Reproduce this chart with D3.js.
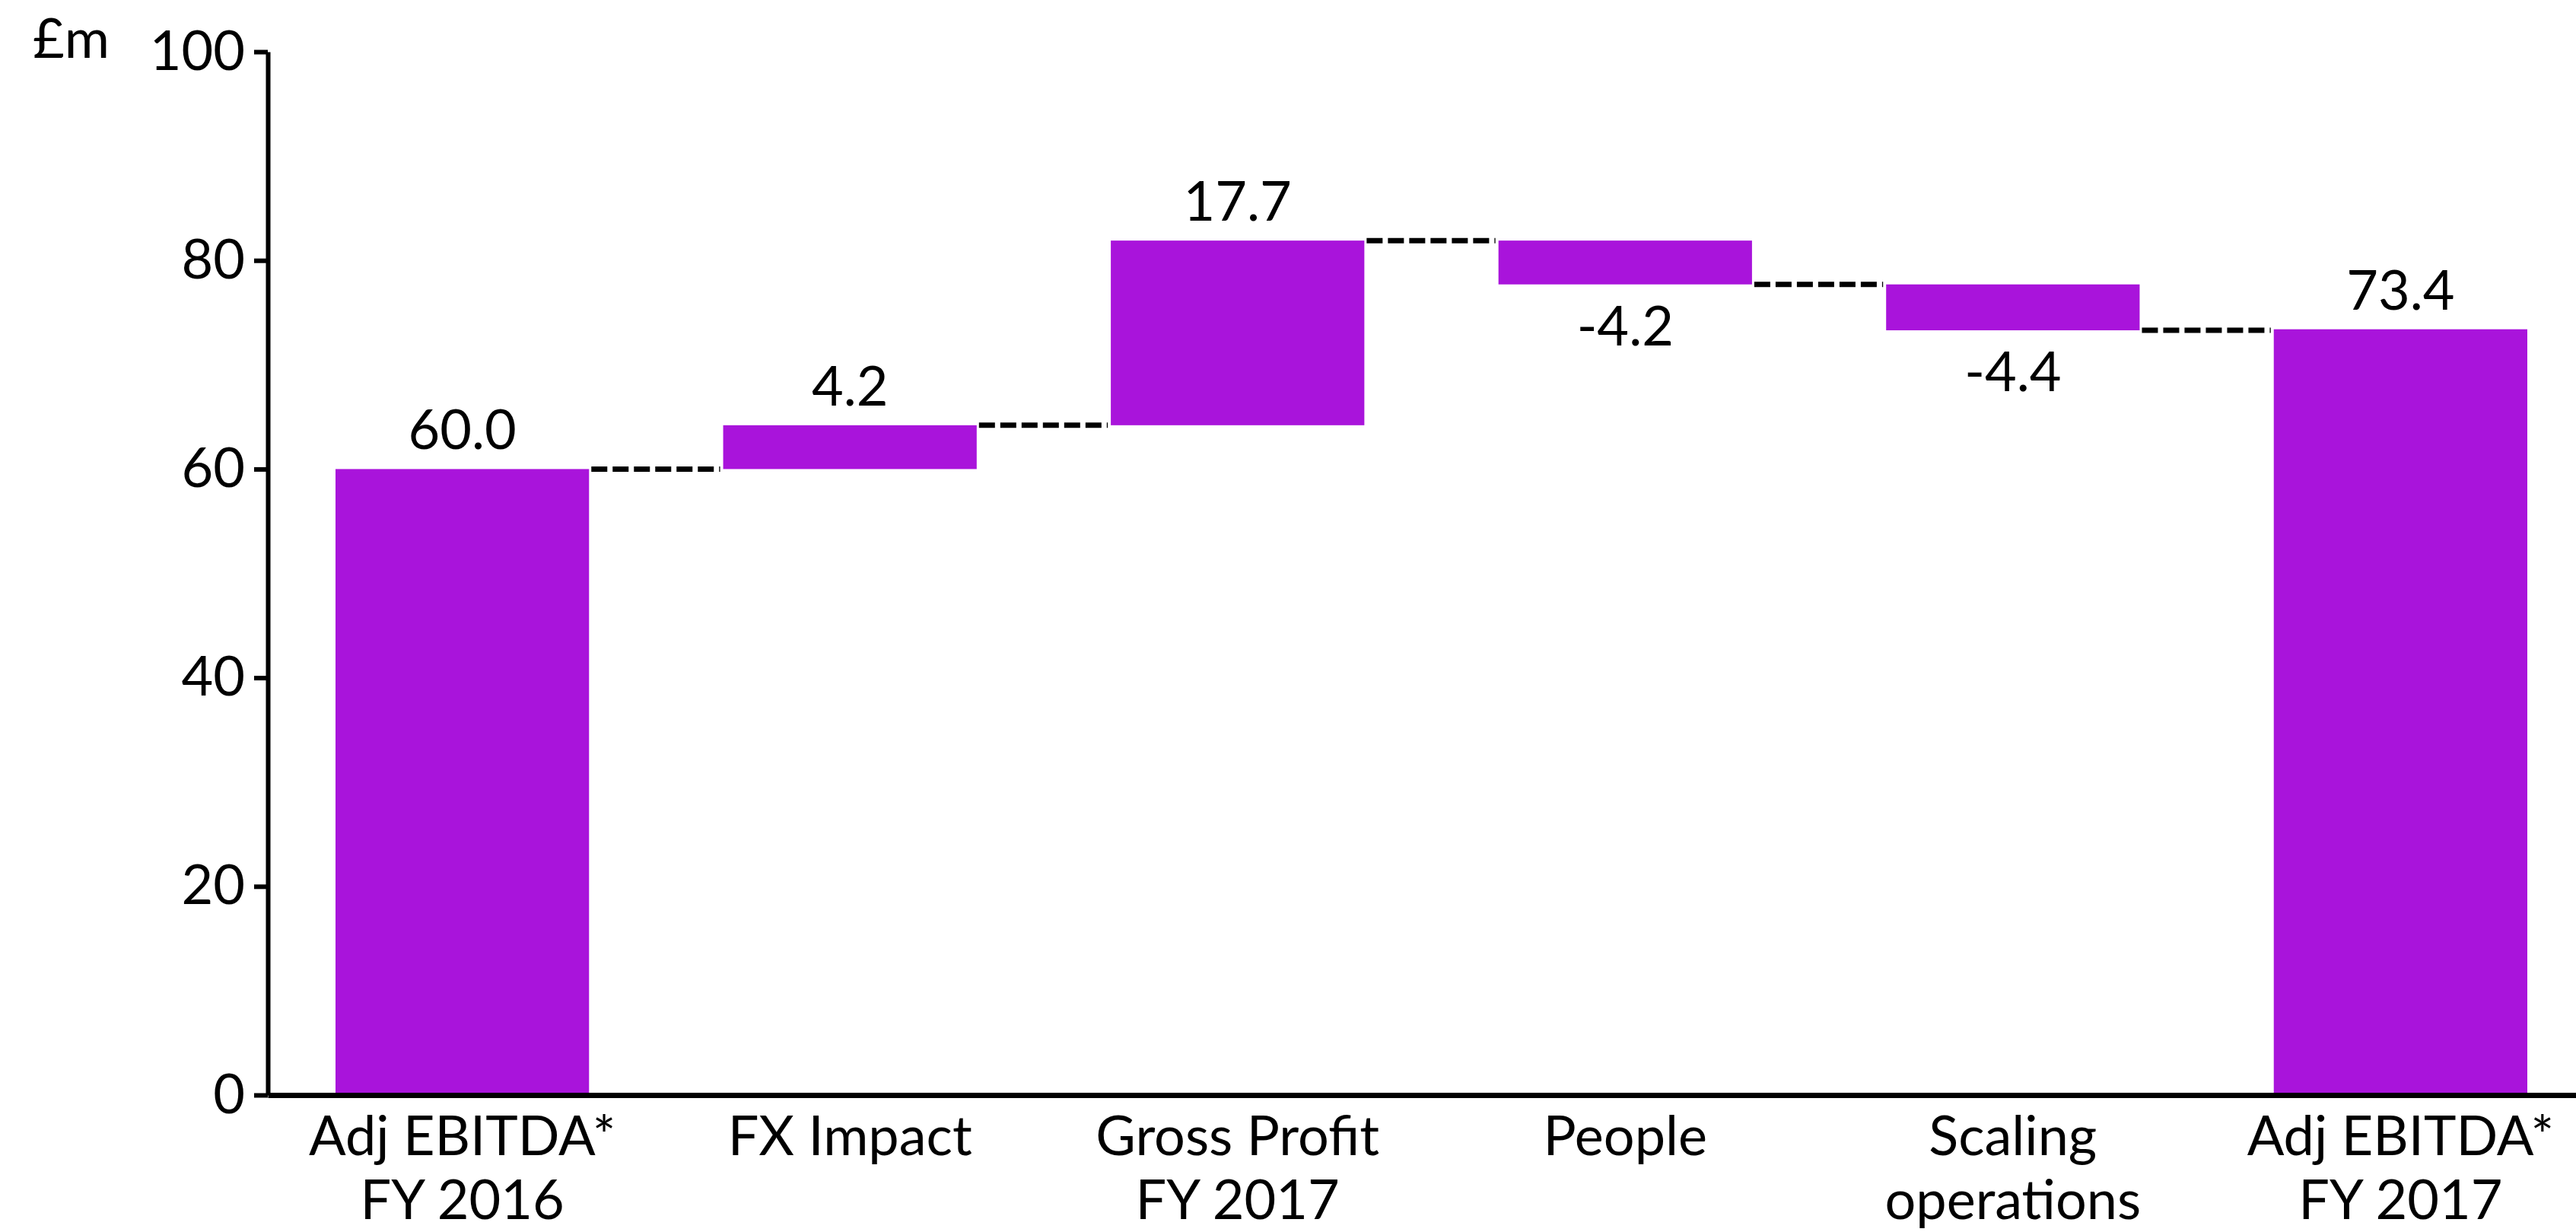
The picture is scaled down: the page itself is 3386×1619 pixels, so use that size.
<!DOCTYPE html>
<html>
<head>
<meta charset="utf-8">
<script src="https://cdn.jsdelivr.net/npm/d3@7"></script>
<style>
  html, body { margin: 0; padding: 0; background: #fff; }
  svg { display: block; }
  text { font-family: Lato, "Open Sans", sans-serif; fill: #000; }
</style>
</head>
<body>
<svg id="chart" width="3386" height="1619"></svg>
<script>
// ---- data ----
const categories = [
  ["Adj EBITDA*", "FY 2016"],
  ["FX Impact"],
  ["Gross Profit", "FY 2017"],
  ["People"],
  ["Scaling", "operations"],
  ["Adj EBITDA*", "FY 2017"]
];
const values = [60.0, 4.2, 17.7, -4.2, -4.4, 73.4];
const barTypes = ["total", "delta", "delta", "delta", "delta", "total"];
const valueLabels = ["60.0", "4.2", "17.7", "-4.2", "-4.4", "73.4"];
const yTicks = [0, 20, 40, 60, 80, 100];
const unitLabel = "£m";

// ---- layout ----
const W = 3386, H = 1619;
const axisX = 352, y0px = 1439, y100px = 68;
const barColor = "#a914db";
const fontSize = 72;

const svg = d3.select("#chart");

const y = d3.scaleLinear().domain([0, 100]).range([y0px, y100px]);
const x = d3.scaleBand()
  .domain(d3.range(categories.length))
  .range([axisX, 3411])
  .paddingInner(0.346)
  .paddingOuter(0.1747);

// compute waterfall extents
let running = 0;
const bars = values.map((v, i) => {
  let start, end;
  if (barTypes[i] === "total") { start = 0; end = v; running = v; }
  else { start = running; end = running + v; running = end; }
  return { i, v, start, end, label: valueLabels[i] };
});

// bars
svg.append("g").selectAll("rect").data(bars).enter().append("rect")
  .attr("x", d => x(d.i))
  .attr("width", x.bandwidth())
  .attr("y", d => y(Math.max(d.start, d.end)))
  .attr("height", d => Math.abs(y(d.start) - y(d.end)))
  .attr("fill", barColor);

// connectors
const conns = bars.slice(0, -1).map((d, k) => ({ from: d.i, to: bars[k + 1].i, level: d.end }));
svg.append("g").selectAll("line").data(conns).enter().append("line")
  .attr("x1", d => x(d.from) + x.bandwidth() + 3)
  .attr("x2", d => x(d.to) - 4)
  .attr("y1", d => y(d.level))
  .attr("y2", d => y(d.level))
  .attr("stroke", "#000")
  .attr("stroke-width", 7)
  .attr("stroke-dasharray", "21 7");

// value labels
svg.append("g").selectAll("text").data(bars).enter().append("text")
  .attr("x", d => x(d.i) + x.bandwidth() / 2)
  .attr("y", d => d.v >= 0 ? y(Math.max(d.start, d.end)) - 26 : y(Math.min(d.start, d.end)) + 80)
  .attr("text-anchor", "middle")
  .attr("font-size", fontSize)
  .text(d => d.label);

// y axis
const yAxis = d3.axisLeft(y).tickValues(yTicks).tickSize(18).tickSizeOuter(0).tickPadding(12);
const gy = svg.append("g").attr("transform", `translate(${axisX},0)`).call(yAxis);
gy.select(".domain").attr("stroke", "#000").attr("stroke-width", 6);
gy.selectAll(".tick line").attr("stroke", "#000").attr("stroke-width", 6);
gy.selectAll(".tick text").attr("font-size", fontSize).attr("font-family", "Lato, sans-serif").attr("fill", "#000");

// x axis
const xAxis = d3.axisBottom(x).tickSize(0).tickSizeOuter(0).tickFormat(() => "");
const gx = svg.append("g").attr("transform", `translate(0,${y0px})`).call(xAxis);
gx.select(".domain").attr("stroke", "#000").attr("stroke-width", 7);
gx.selectAll(".tick").each(function(i) {
  const t = d3.select(this).append("text")
    .attr("text-anchor", "middle")
    .attr("font-size", fontSize)
    .attr("font-family", "Lato, sans-serif")
    .attr("fill", "#000")
    .attr("y", 79);
  categories[i].forEach((line, k) => {
    t.append("tspan").attr("x", 0).attr("dy", k === 0 ? 0 : 84).text(line);
  });
});

// unit label
svg.append("text").attr("x", 43).attr("y", 76).attr("font-size", fontSize).text(unitLabel);
</script>
</body>
</html>
